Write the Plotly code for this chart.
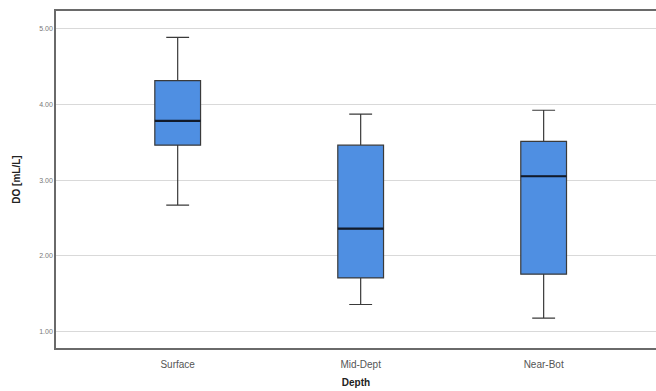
import plotly.graph_objects as go

# Dissolved oxygen summary statistics by sampling depth
depths = ["Surface", "Mid-Dept", "Near-Bot"]
positions = [0, 1, 2]
lower_whisker = [2.67, 1.36, 1.18]
q1 = [3.46, 1.71, 1.76]
median = [3.78, 2.36, 3.05]
q3 = [4.31, 3.46, 3.51]
upper_whisker = [4.88, 3.87, 3.92]
y_ticks = [1, 2, 3, 4, 5]

BOX_WIDTH = 0.25

fig = go.Figure()
fig.add_trace(go.Box(
    x=positions,
    q1=q1,
    median=median,
    q3=q3,
    lowerfence=lower_whisker,
    upperfence=upper_whisker,
    width=BOX_WIDTH,
    whiskerwidth=0.5,
    fillcolor="#4F8FE2",
    line=dict(color="#3a3a3a", width=1.2),
    boxpoints=False,
    hoverinfo="skip",
))

# Heavier median bars across each box
mx, my = [], []
for p, m in zip(positions, median):
    mx += [p - BOX_WIDTH / 2, p + BOX_WIDTH / 2, None]
    my += [m, m, None]
fig.add_trace(go.Scatter(
    x=mx, y=my, mode="lines",
    line=dict(color="#111a2a", width=2.2),
    hoverinfo="skip",
))

fig.update_layout(
    width=656,
    height=391,
    margin=dict(l=56, r=0, t=11, b=43),
    paper_bgcolor="white",
    plot_bgcolor="white",
    showlegend=False,
    font=dict(family="Liberation Sans, Arial, sans-serif", color="#555"),
    xaxis=dict(
        range=[-0.665, 2.614],
        tickvals=positions,
        ticktext=depths,
        tickfont=dict(size=10, color="#555"),
        ticklabelstandoff=6,
        showgrid=False,
        zeroline=False,
        showline=True,
        linecolor="#6a6a6a",
        linewidth=1.5,
        mirror=True,
        ticks="",
        title=dict(text="<b>Depth</b>", font=dict(size=10, color="#222"), standoff=10),
    ),
    yaxis=dict(
        range=[0.787, 5.228],
        tickvals=y_ticks,
        tickformat=".2f",
        tickfont=dict(size=7, color="#777"),
        showgrid=True,
        gridcolor="#d9d9d9",
        gridwidth=1,
        zeroline=False,
        showline=True,
        linecolor="#6a6a6a",
        linewidth=1.5,
        ticks="",
        title=dict(text="<b>DO [mL/L]</b>", font=dict(size=10, color="#222"), standoff=17),
    ),
)

fig.write_html("out.html")
